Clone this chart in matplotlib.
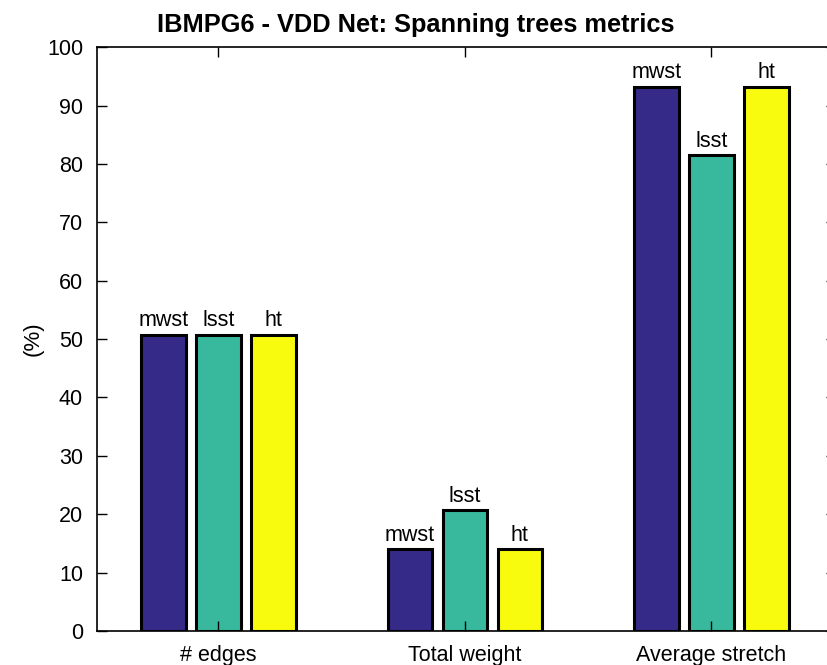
import numpy as np
import matplotlib
matplotlib.use("Agg")
import matplotlib.pyplot as plt

plt.rcParams['font.family'] = ['Liberation Sans', 'DejaVu Sans']

categories = ['# edges', 'Total weight', 'Average stretch']
series = ['mwst', 'lsst', 'ht']
mwst = [50.7, 14.0, 93.2]
lsst = [50.7, 20.7, 81.5]
ht = [50.7, 14.0, 93.2]
colors = ['#352a87', '#38b99e', '#f9fb0e']

fig = plt.figure(figsize=(8.28, 6.65), dpi=100)
ax = fig.add_axes([0.1171, 0.0511, 0.893, 0.878])

x = np.arange(1, len(categories) + 1)
width = 0.18
offset = 0.223
for i, (name, vals) in enumerate(zip(series, [mwst, lsst, ht])):
    pos = x + (i - 1) * offset
    ax.bar(pos, vals, width, color=colors[i], edgecolor='black', linewidth=2.2)
    for p, v in zip(pos, vals):
        ax.text(p, v + 0.6, name, ha='center', va='bottom', fontsize=15.5)

ax.set_xlim(0.507, 3.507)
ax.set_ylim(0, 100)
ax.set_yticks(range(0, 101, 10))
ax.set_xticks(x)
ax.set_xticklabels(categories)
ax.tick_params(direction='in', length=7, width=1, labelsize=15.5,
               top=True, right=True)
ax.tick_params(axis='y', pad=10)
ax.tick_params(axis='x', pad=10)
ax.set_ylabel('(%)', fontsize=16)
ax.yaxis.set_label_coords(-0.072, 0.5)
# title sits left of the axes centre in the original (right side is cropped)
fig.text(416 / 828, 1 - 25 / 665, 'IBMPG6 - VDD Net: Spanning trees metrics',
         fontsize=18.3, fontweight='bold', ha='center', va='center')
for s in ax.spines.values():
    s.set_linewidth(1.2)

fig.savefig('out.png', dpi=100)
